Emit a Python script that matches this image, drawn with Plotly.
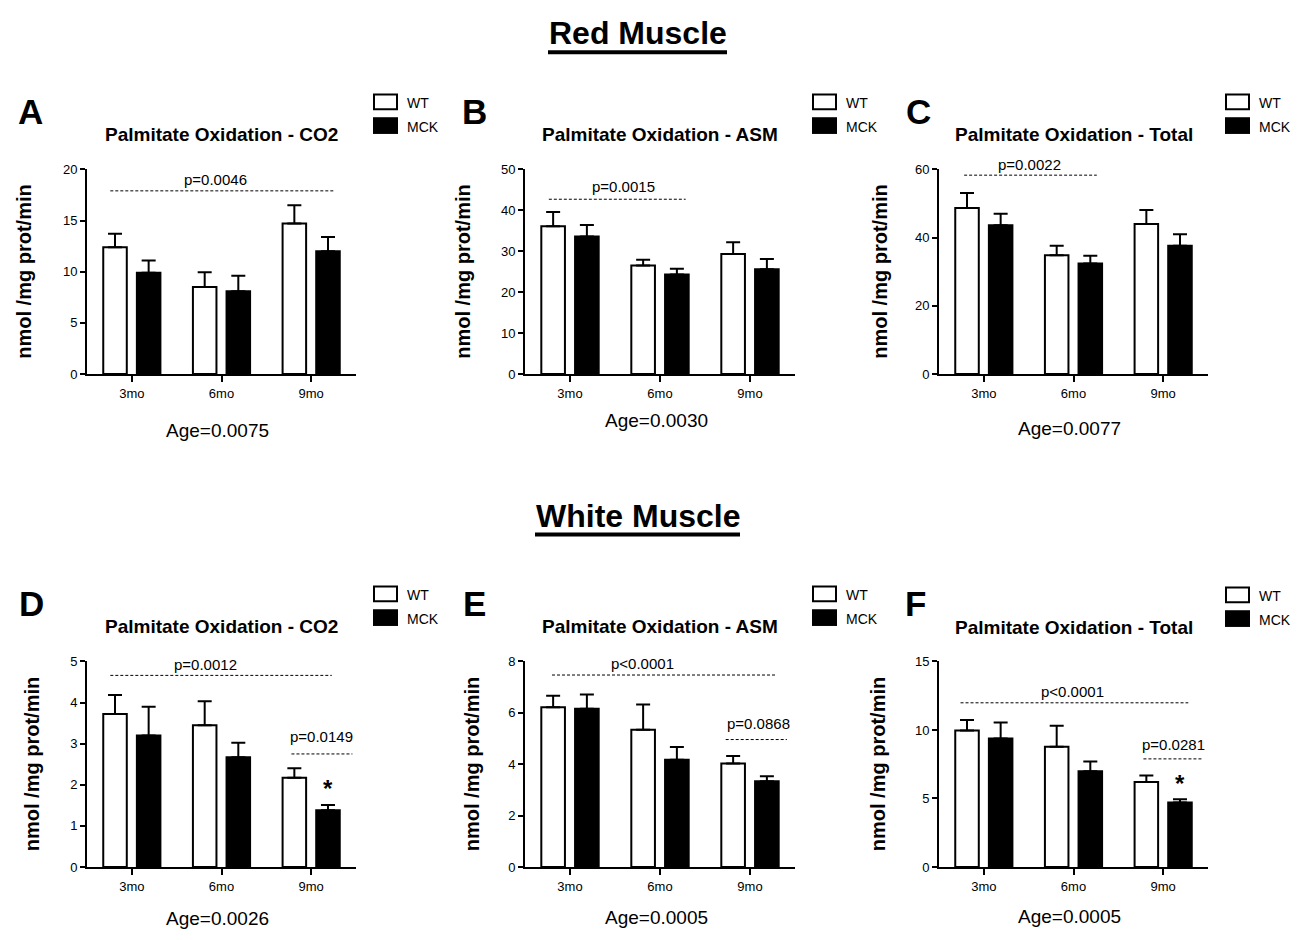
import plotly.graph_objects as go

W, H = 1300, 940
ages = ["3mo", "6mo", "9mo"]

# ---------------- data ----------------
# Red muscle
a_wt, a_wt_err = [12.4, 8.5, 14.7], [1.3, 1.45, 1.8]
a_mck, a_mck_err = [9.9, 8.1, 12.0], [1.2, 1.5, 1.4]
b_wt, b_wt_err = [36.1, 26.5, 29.3], [3.5, 1.4, 2.9]
b_mck, b_mck_err = [33.6, 24.3, 25.6], [2.8, 1.4, 2.5]
c_wt, c_wt_err = [48.7, 34.8, 44.0], [4.4, 2.8, 4.1]
c_mck, c_mck_err = [43.6, 32.4, 37.6], [3.4, 2.3, 3.4]
# White muscle
d_wt, d_wt_err = [3.72, 3.45, 2.17], [0.46, 0.58, 0.23]
d_mck, d_mck_err = [3.20, 2.67, 1.38], [0.70, 0.35, 0.13]
e_wt, e_wt_err = [6.22, 5.34, 4.03], [0.44, 0.98, 0.29]
e_mck, e_mck_err = [6.16, 4.17, 3.34], [0.55, 0.50, 0.19]
f_wt, f_wt_err = [9.96, 8.78, 6.20], [0.77, 1.52, 0.48]
f_mck, f_mck_err = [9.38, 6.99, 4.70], [1.16, 0.70, 0.24]

titles = ["Palmitate Oxidation - CO2", "Palmitate Oxidation - ASM", "Palmitate Oxidation - Total"] * 2
letters = ["A", "B", "C", "D", "E", "F"]
age_texts = ["Age=0.0075", "Age=0.0030", "Age=0.0077", "Age=0.0026", "Age=0.0005", "Age=0.0005"]
y_max = [20, 50, 60, 5, 8, 15]
y_dtick = [5, 10, 20, 1, 2, 5]

# significance lines: (x0, x1, y) in category / data units
sig_lines = [
    [(-0.24, 2.25, 17.9)],
    [(-0.235, 1.285, 42.7)],
    [(-0.22, 1.26, 58.3)],
    [(-0.24, 2.23, 4.66), (1.78, 2.46, 2.75)],
    [(-0.20, 2.29, 7.47), (1.73, 2.41, 4.96)],
    [(-0.26, 2.28, 11.98), (1.78, 2.44, 7.89)],
]
p_labels = [
    [("p=0.0046", 0.93, 19.05)],
    [("p=0.0015", 0.59, 45.7)],
    [("p=0.0022", 0.51, 61.4)],
    [("p=0.0012", 0.82, 4.92), ("p=0.0149", 2.11, 3.17)],
    [("p<0.0001", 0.81, 7.93), ("p=0.0868", 2.09, 5.57)],
    [("p<0.0001", 0.99, 12.78), ("p=0.0281", 2.11, 8.92)],
]
stars = [[], [], [], [(2.19, 1.90)], [], [(2.19, 6.06)]]

wt_vals = [a_wt, b_wt, c_wt, d_wt, e_wt, f_wt]
wt_errs = [a_wt_err, b_wt_err, c_wt_err, d_wt_err, e_wt_err, f_wt_err]
mck_vals = [a_mck, b_mck, c_mck, d_mck, e_mck, f_mck]
mck_errs = [a_mck_err, b_mck_err, c_mck_err, d_mck_err, e_mck_err, f_mck_err]

# ---------------- layout geometry (pixels) ----------------
col_x = [(87, 356), (525, 795), (939, 1208)]
row_y = [(165, 373), (665, 874)]
age_y = [430, 420, 428, 926, 925, 924]
ylab_x = [24, 463, 880, 32, 472, 878]
letter_x = [30, 474, 918, 31, 474, 915]
letter_y = [106, 106, 106, 606, 606, 606]
title_y = [130, 130, 130, 630, 630, 631]
legend_top = [89, 89, 89, 589, 589, 590]

FONT = "Liberation Sans, Arial, sans-serif"


def px(x):
    return x / W


def py(y):
    return 1 - y / H


fig = go.Figure()
annotations = []
shapes = []
layout_axes = {}

for i in range(6):
    r, c = divmod(i, 3)
    n = i + 1
    xa = "x" if n == 1 else f"x{n}"
    ya = "y" if n == 1 else f"y{n}"
    x0, x1 = col_x[c]
    y0, y1 = row_y[r]
    unit_px = (y1 - y0) / y_max[i]

    err_style = dict(type="data", symmetric=False, arrayminus=[0, 0, 0],
                     color="black", thickness=2, width=7)
    fig.add_trace(go.Bar(
        x=ages, y=wt_vals[i], name="WT", xaxis=xa, yaxis=ya,
        marker=dict(color="white", line=dict(color="black", width=2)),
        error_y=dict(array=wt_errs[i], **err_style), showlegend=False))
    fig.add_trace(go.Bar(
        x=ages, y=mck_vals[i], name="MCK", xaxis=xa, yaxis=ya,
        marker=dict(color="black", line=dict(color="black", width=2)),
        error_y=dict(array=mck_errs[i], **err_style), showlegend=False))

    xkey = "xaxis" if n == 1 else f"xaxis{n}"
    ykey = "yaxis" if n == 1 else f"yaxis{n}"
    layout_axes[xkey] = dict(
        domain=[px(x0), px(x1)], anchor=ya, type="category", range=[-0.5, 2.5],
        showline=True, linewidth=2, linecolor="black", ticks="outside", ticklen=6,
        tickwidth=2, tickcolor="black", showgrid=False, zeroline=False,
        tickfont=dict(family=FONT, size=13, color="black"), fixedrange=True)
    layout_axes[ykey] = dict(
        domain=[py(y1), py(y0)], anchor=xa, range=[0, y_max[i]], dtick=y_dtick[i],
        showline=True, linewidth=2, linecolor="black", ticks="outside", ticklen=5,
        tickwidth=2, tickcolor="black", showgrid=False, zeroline=False,
        tickfont=dict(family=FONT, size=13, color="black"), fixedrange=True)

    # title
    annotations.append(dict(text=f"<b>{titles[i]}</b>", x=px((x0 + x1) / 2), y=py(title_y[i]),
                            xref="paper", yref="paper", showarrow=False, xanchor="center",
                            yanchor="middle", font=dict(family=FONT, size=19, color="black")))
    # panel letter
    annotations.append(dict(text=f"<b>{letters[i]}</b>", x=px(letter_x[i]), y=py(letter_y[i]),
                            xref="paper", yref="paper", showarrow=False, xanchor="center",
                            yanchor="middle", font=dict(family=FONT, size=35, color="black")))
    # y label
    annotations.append(dict(text="<b>nmol /mg prot/min</b>", x=px(ylab_x[i]), y=py((y0 + y1) / 2),
                            xref="paper", yref="paper", showarrow=False, textangle=-90,
                            xanchor="center", yanchor="middle",
                            font=dict(family=FONT, size=20, color="black")))
    # age stat
    annotations.append(dict(text=age_texts[i], x=px((x0 + x1) / 2 - 4), y=py(age_y[i]),
                            xref="paper", yref="paper", showarrow=False, xanchor="center",
                            yanchor="middle", font=dict(family=FONT, size=19, color="black")))
    # legend (boxes + text)
    lx = x1 + 18
    lt = legend_top[i]
    shapes.append(dict(type="rect", xref="paper", yref="paper", x0=px(lx), x1=px(lx + 23),
                       y0=py(lt + 15), y1=py(lt), line=dict(color="black", width=2),
                       fillcolor="white"))
    shapes.append(dict(type="rect", xref="paper", yref="paper", x0=px(lx - 1), x1=px(lx + 24),
                       y0=py(lt + 40), y1=py(lt + 23), line=dict(color="black", width=0),
                       fillcolor="black"))
    annotations.append(dict(text="WT", x=px(lx + 31), y=py(lt + 9), xref="paper", yref="paper",
                            showarrow=False, xanchor="left", yanchor="middle",
                            font=dict(family=FONT, size=14, color="black")))
    annotations.append(dict(text="MCK", x=px(lx + 31), y=py(lt + 33), xref="paper", yref="paper",
                            showarrow=False, xanchor="left", yanchor="middle",
                            font=dict(family=FONT, size=14, color="black")))

    # significance
    for (sx0, sx1, sy) in sig_lines[i]:
        shapes.append(dict(type="line", xref=xa, yref=ya, x0=sx0, x1=sx1, y0=sy, y1=sy,
                           line=dict(color="black", width=1, dash="3px,2px")))
    for (txt, tx, ty) in p_labels[i]:
        ty_in = min(ty, y_max[i])
        annotations.append(dict(text=txt, x=tx, y=ty_in, xref=xa, yref=ya, showarrow=False,
                                xanchor="center", yanchor="middle",
                                yshift=(ty - ty_in) * unit_px,
                                font=dict(family=FONT, size=15, color="black")))
    for (sx, sy) in stars[i]:
        annotations.append(dict(text="<b>*</b>", x=sx, y=sy, xref=xa, yref=ya, showarrow=False,
                                xanchor="center", yanchor="middle",
                                font=dict(family=FONT, size=24, color="black")))

# section headings
for txt, cy, uy, ux0, ux1 in [("Red Muscle", 26, 46, 548, 727), ("White Muscle", 517, 536, 535, 740)]:
    annotations.append(dict(text=f"<b>{txt}</b>", x=px(637.5), y=py(cy), xref="paper", yref="paper",
                            showarrow=False, xanchor="center", yanchor="middle",
                            font=dict(family=FONT, size=32, color="black")))
    shapes.append(dict(type="line", xref="paper", yref="paper", x0=px(ux0), x1=px(ux1),
                       y0=py(uy), y1=py(uy), line=dict(color="black", width=4)))

fig.update_layout(
    width=W, height=H, margin=dict(l=0, r=0, t=0, b=0),
    paper_bgcolor="white", plot_bgcolor="white", showlegend=False,
    barmode="group", bargap=0.25, bargroupgap=0.3,
    annotations=annotations, shapes=shapes,
    font=dict(family=FONT, color="black"),
    **layout_axes)

fig.write_html("out.html", config={"displayModeBar": False},
               post_script="document.body.style.margin='0';document.body.style.overflow='hidden';")
